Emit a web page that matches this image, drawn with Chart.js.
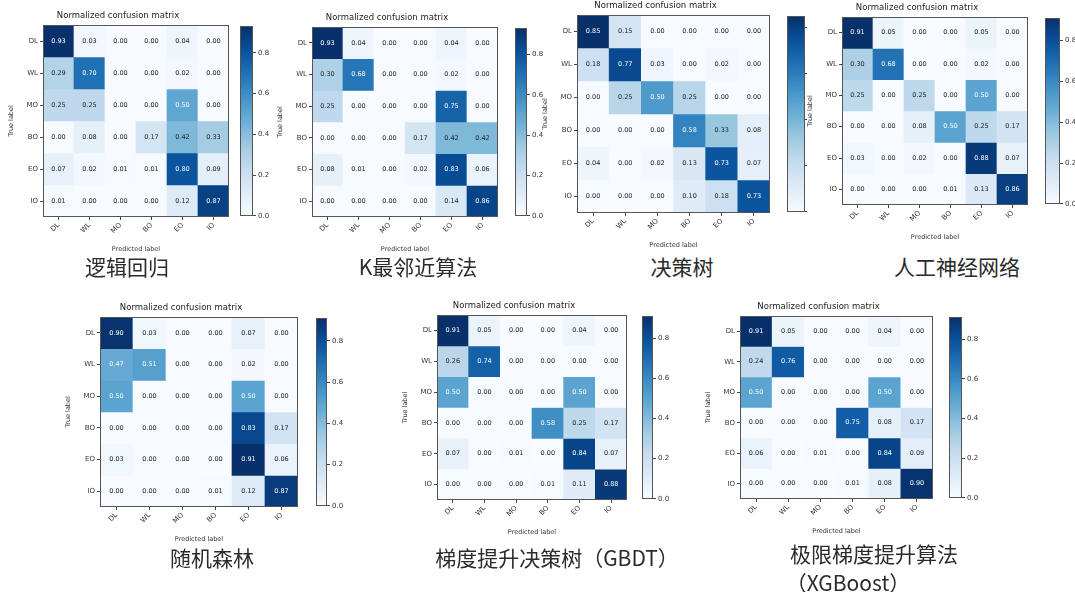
<!DOCTYPE html>
<html>
<head>
<meta charset="utf-8">
<script src="https://cdn.jsdelivr.net/npm/chart.js@4.4.1/dist/chart.umd.min.js"></script>
<style>
  html, body { margin: 0; padding: 0; background: #fff; }
  #fig { position: relative; width: 1075px; height: 592px; overflow: hidden; background: #fff; }
  .abs { position: absolute; }
  .mask { position: absolute; background: #fff; }
  .cap { position: absolute; transform: translate(-50%, -50%); font-family: "Noto Sans CJK SC", sans-serif;
         font-size: 21px; color: #2b2b2b; white-space: nowrap; line-height: 1; }
</style>
</head>
<body>
<div id="fig"></div>
<script>
// Class labels shared by every confusion matrix
const rowLabels = ['DL', 'WL', 'MO', 'BO', 'EO', 'IO'];
const colLabels = ['DL', 'WL', 'MO', 'BO', 'EO', 'IO'];
const colorbarTicks = [0.0, 0.2, 0.4, 0.6, 0.8];

// Normalized confusion matrices (rows: true label, columns: predicted label)
const cmLogistic = [
  [0.93, 0.03, 0.00, 0.00, 0.04, 0.00],
  [0.29, 0.70, 0.00, 0.00, 0.02, 0.00],
  [0.25, 0.25, 0.00, 0.00, 0.50, 0.00],
  [0.00, 0.08, 0.00, 0.17, 0.42, 0.33],
  [0.07, 0.02, 0.01, 0.01, 0.80, 0.09],
  [0.01, 0.00, 0.00, 0.00, 0.12, 0.87]
];
const cmKnn = [
  [0.93, 0.04, 0.00, 0.00, 0.04, 0.00],
  [0.30, 0.68, 0.00, 0.00, 0.02, 0.00],
  [0.25, 0.00, 0.00, 0.00, 0.75, 0.00],
  [0.00, 0.00, 0.00, 0.17, 0.42, 0.42],
  [0.08, 0.01, 0.00, 0.02, 0.83, 0.06],
  [0.00, 0.00, 0.00, 0.00, 0.14, 0.86]
];
const cmTree = [
  [0.85, 0.15, 0.00, 0.00, 0.00, 0.00],
  [0.18, 0.77, 0.03, 0.00, 0.02, 0.00],
  [0.00, 0.25, 0.50, 0.25, 0.00, 0.00],
  [0.00, 0.00, 0.00, 0.58, 0.33, 0.08],
  [0.04, 0.00, 0.02, 0.13, 0.73, 0.07],
  [0.00, 0.00, 0.00, 0.10, 0.18, 0.73]
];
const cmAnn = [
  [0.91, 0.05, 0.00, 0.00, 0.05, 0.00],
  [0.30, 0.68, 0.00, 0.00, 0.02, 0.00],
  [0.25, 0.00, 0.25, 0.00, 0.50, 0.00],
  [0.00, 0.00, 0.08, 0.50, 0.25, 0.17],
  [0.03, 0.00, 0.02, 0.00, 0.88, 0.07],
  [0.00, 0.00, 0.00, 0.01, 0.13, 0.86]
];
const cmForest = [
  [0.90, 0.03, 0.00, 0.00, 0.07, 0.00],
  [0.47, 0.51, 0.00, 0.00, 0.02, 0.00],
  [0.50, 0.00, 0.00, 0.00, 0.50, 0.00],
  [0.00, 0.00, 0.00, 0.00, 0.83, 0.17],
  [0.03, 0.00, 0.00, 0.00, 0.91, 0.06],
  [0.00, 0.00, 0.00, 0.01, 0.12, 0.87]
];
const cmGbdt = [
  [0.91, 0.05, 0.00, 0.00, 0.04, 0.00],
  [0.26, 0.74, 0.00, 0.00, 0.00, 0.00],
  [0.50, 0.00, 0.00, 0.00, 0.50, 0.00],
  [0.00, 0.00, 0.00, 0.58, 0.25, 0.17],
  [0.07, 0.00, 0.01, 0.00, 0.84, 0.07],
  [0.00, 0.00, 0.00, 0.01, 0.11, 0.88]
];
const cmXgb = [
  [0.91, 0.05, 0.00, 0.00, 0.04, 0.00],
  [0.24, 0.76, 0.00, 0.00, 0.00, 0.00],
  [0.50, 0.00, 0.00, 0.00, 0.50, 0.00],
  [0.00, 0.00, 0.00, 0.75, 0.08, 0.17],
  [0.06, 0.00, 0.01, 0.00, 0.84, 0.09],
  [0.00, 0.00, 0.00, 0.01, 0.08, 0.90]
];

const titleText = 'Normalized confusion matrix';
const xTitle = 'Predicted label';
const yTitle = 'True label';

// Panel layout: plot rectangle, colorbar rectangle, caption lines
const panels = [
  { cm: cmLogistic, plot: [43, 25, 229, 217], cb: [240, 253], cap: [['逻辑回归', 127, 266]] },
  { cm: cmKnn,      plot: [312, 27, 498, 217], cb: [515, 527], cap: [['K最邻近算法', 418, 266]] },
  { cm: cmTree,     plot: [577, 15, 770, 213], cb: [787, 805], cap: [['决策树', 682, 266]], mask: 544 },
  { cm: cmAnn,      plot: [842, 17, 1028, 205], cb: [1045, 1060], cap: [['人工神经网络', 957, 266]], mask: 807 },
  { cm: cmForest,   plot: [100, 317, 298, 507], cb: [316, 327], cap: [['随机森林', 212, 557]] },
  { cm: cmGbdt,     plot: [437, 315, 627, 500], cb: [642, 653], cap: [['梯度提升决策树（GBDT）', 557, 557]] },
  { cm: cmXgb,      plot: [740, 316, 933, 499], cb: [949, 962], cap: [['极限梯度提升算法', 874, 553], ['（XGBoost）', 848, 582]] }
];

// matplotlib "Blues" colormap
const bluesStops = ['#f7fbff', '#deebf7', '#c6dbef', '#9ecae1', '#6baed6', '#4292c6', '#2171b5', '#08519c', '#08306b'];
function hexRgb(h) { return [1, 3, 5].map(i => parseInt(h.substr(i, 2), 16)); }
const bluesRgb = bluesStops.map(hexRgb);
function blues(t) {
  t = Math.max(0, Math.min(1, t));
  const p = t * (bluesRgb.length - 1);
  const i = Math.min(Math.floor(p), bluesRgb.length - 2);
  const f = p - i;
  const a = bluesRgb[i], b = bluesRgb[i + 1];
  return 'rgb(' + a.map((c, k) => Math.round(c + (b[k] - c) * f)).join(',') + ')';
}

const tickFont = { family: 'DejaVu Sans', size: 7 };
const txtColor = '#333';

// Outline around the plotting area
const framePlugin = {
  id: 'frame',
  afterDatasetsDraw(chart) {
    const a = chart.chartArea, c = chart.ctx;
    c.save();
    c.strokeStyle = '#555';
    c.lineWidth = 1;
    c.strokeRect(Math.round(a.left) + 0.5, Math.round(a.top) + 0.5,
                 Math.round(a.right - a.left) - 1, Math.round(a.bottom - a.top) - 1);
    c.restore();
  }
};

// Value annotation inside each cell
const cellTextPlugin = {
  id: 'cellText',
  afterDatasetsDraw(chart) {
    const c = chart.ctx;
    const vmax = chart.options.plugins.cellText.vmax;
    c.save();
    c.font = '6.5px "DejaVu Sans"';
    c.textAlign = 'center';
    c.textBaseline = 'middle';
    chart.data.datasets.forEach((ds, i) => {
      chart.getDatasetMeta(i).data.forEach((el, j) => {
        const v = ds.data[j].v;
        c.fillStyle = v > vmax / 2 ? '#ffffff' : '#222';
        c.fillText(v.toFixed(2), el.x, (el.y + el.base) / 2);
      });
    });
    c.restore();
  }
};

const fig = document.getElementById('fig');

function addCanvas(left, top, w, h) {
  const cv = document.createElement('canvas');
  cv.className = 'abs';
  cv.width = w; cv.height = h;
  cv.style.left = left + 'px'; cv.style.top = top + 'px';
  cv.style.width = w + 'px'; cv.style.height = h + 'px';
  fig.appendChild(cv);
  return cv;
}

panels.forEach(p => {
  if (p.mask !== undefined) {
    const m = document.createElement('div');
    m.className = 'mask';
    m.style.left = p.mask + 'px'; m.style.top = (p.plot[1] < 100 ? 0 : 290) + 'px';
    m.style.width = '300px'; m.style.height = '290px';
    fig.appendChild(m);
  }
  const [L, T, R, B] = p.plot;
  const vmax = Math.max(...p.cm.flat());
  const yAxisW = 36, titleH = 16, xAxisH = 36, padR = 4;

  // Confusion matrix as floating bars, one dataset per true-label row
  const cv = addCanvas(L - yAxisW, T - titleH, (R - L) + yAxisW + padR, (B - T) + titleH + xAxisH);
  new Chart(cv, {
    type: 'bar',
    data: {
      labels: colLabels,
      datasets: p.cm.map((row, i) => ({
        data: row.map((v, j) => ({ x: colLabels[j], y: [i, i + 1], v: v })),
        backgroundColor: ctx => (ctx.raw ? blues(ctx.raw.v / vmax) : '#fff'),
        grouped: false,
        barPercentage: 1,
        categoryPercentage: 1,
        borderWidth: 0
      }))
    },
    options: {
      responsive: false,
      animation: false,
      devicePixelRatio: 1,
      events: [],
      layout: { padding: { right: padR, left: 0, top: 0, bottom: 0 } },
      plugins: {
        legend: { display: false },
        tooltip: { enabled: false },
        cellText: { vmax: vmax },
        title: {
          display: true, text: titleText, color: '#222',
          font: { family: 'DejaVu Sans', size: 8.5, weight: 'normal', lineHeight: 1.2 },
          padding: { top: 2, bottom: 3.8 }
        }
      },
      scales: {
        x: {
          type: 'category',
          offset: true,
          grid: { display: true, drawOnChartArea: false, drawTicks: true, tickLength: 3, offset: false, color: '#444' },
          border: { display: false },
          ticks: { minRotation: 45, maxRotation: 45, font: tickFont, color: txtColor, padding: 1 },
          title: { display: true, text: xTitle, font: { family: 'DejaVu Sans', size: 6.5 }, color: txtColor, padding: 0 },
          afterFit: s => { s.height = xAxisH; }
        },
        y: {
          type: 'linear',
          min: 0, max: rowLabels.length,
          reverse: true,
          afterBuildTicks: s => { s.ticks = rowLabels.map((_, i) => ({ value: i + 0.5 })); },
          grid: { display: true, drawOnChartArea: false, drawTicks: true, tickLength: 3, color: '#444' },
          border: { display: false },
          ticks: { callback: v => rowLabels[Math.floor(v)], font: tickFont, color: txtColor, padding: 2 },
          title: { display: true, text: yTitle, font: { family: 'DejaVu Sans', size: 6.5 }, color: txtColor, padding: { top: 0, bottom: 2 } },
          afterFit: s => { s.width = yAxisW; }
        }
      }
    },
    plugins: [cellTextPlugin, framePlugin]
  });

  // Colorbar: a single floating bar from 0 to the matrix maximum, shaded with the colormap
  const [cbL, cbR] = p.cb;
  const cbAxisW = 30, cbPad = 5;
  const cb = addCanvas(cbL, T - cbPad, (cbR - cbL) + cbAxisW, (B - T) + 2 * cbPad);
  new Chart(cb, {
    type: 'bar',
    data: {
      labels: [''],
      datasets: [{
        data: [[0, vmax]],
        backgroundColor: ctx => {
          const a = ctx.chart.chartArea;
          if (!a) return '#fff';
          const g = ctx.chart.ctx.createLinearGradient(0, a.bottom, 0, a.top);
          for (let k = 0; k <= 20; k++) g.addColorStop(k / 20, blues(k / 20));
          return g;
        },
        barPercentage: 1,
        categoryPercentage: 1,
        borderWidth: 0
      }]
    },
    options: {
      responsive: false,
      animation: false,
      devicePixelRatio: 1,
      events: [],
      layout: { padding: { top: cbPad, bottom: cbPad, left: 0, right: 0 } },
      plugins: { legend: { display: false }, tooltip: { enabled: false } },
      scales: {
        x: { display: false },
        y: {
          position: 'right',
          min: 0, max: vmax,
          afterBuildTicks: s => { s.ticks = colorbarTicks.filter(v => v <= vmax).map(v => ({ value: v })); },
          grid: { display: true, drawOnChartArea: false, drawTicks: true, tickLength: 3, color: '#444' },
          border: { display: false },
          ticks: { callback: v => v.toFixed(1), font: tickFont, color: txtColor, padding: 2 },
          afterFit: s => { s.width = cbAxisW; }
        }
      }
    },
    plugins: [framePlugin]
  });

  // Model name below each matrix
  p.cap.forEach(([text, cx, cy]) => {
    const d = document.createElement('div');
    d.className = 'cap';
    d.textContent = text;
    d.style.left = cx + 'px';
    d.style.top = cy + 'px';
    fig.appendChild(d);
  });
});
</script>
</body>
</html>
